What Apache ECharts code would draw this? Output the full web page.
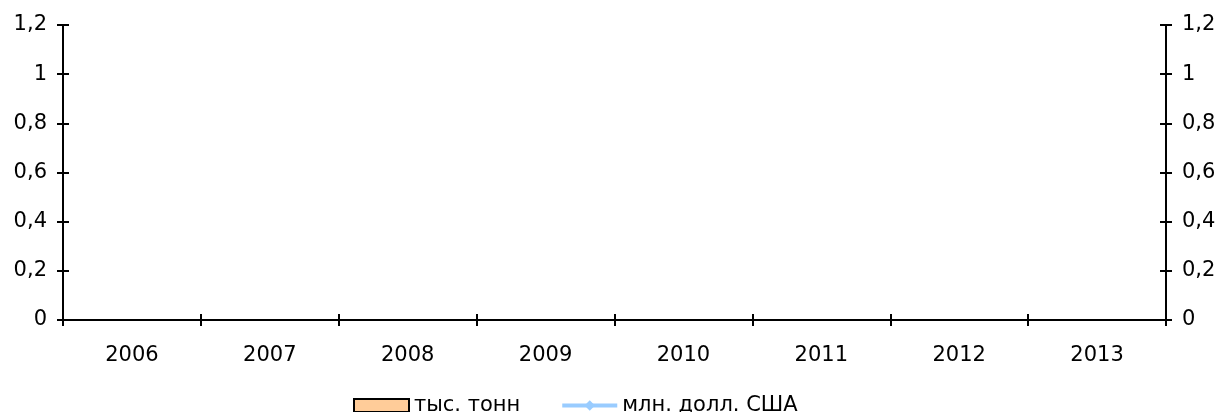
<!DOCTYPE html>
<html>
<head>
<meta charset="utf-8">
<script src="https://cdn.jsdelivr.net/npm/echarts@6/dist/echarts.min.js"></script>
<style>
  html, body { margin: 0; padding: 0; background: #fff; }
  #chart { width: 1219px; height: 412px; }
</style>
</head>
<body>
<div id="chart"></div>
<script>
const years = ["2006", "2007", "2008", "2009", "2010", "2011", "2012", "2013"];
// no values are plotted in the source chart
const tonnes = [null, null, null, null, null, null, null, null];
const usd = [null, null, null, null, null, null, null, null];
const yMin = 0;
const yMax = 1.2;
const yStep = 0.2;

const FONT = "DejaVu Sans";
const AXIS_COLOR = "#000";
const BAR_COLOR = "#FFCC99";
const LINE_COLOR = "#99CCFF";

const fmt = (v) => String(Math.round(v * 10) / 10).replace(".", ",");

const chart = echarts.init(document.getElementById("chart"));

function valueAxis(position) {
  return {
    type: "value",
    gridIndex: 0,
    position: position,
    min: yMin,
    max: yMax,
    interval: yStep,
    axisLine: { show: true, lineStyle: { color: AXIS_COLOR, width: 2 } },
    axisTick: { show: true, length: 6, lineStyle: { color: AXIS_COLOR, width: 2 } },
    axisLabel: { color: "#000", fontFamily: FONT, fontSize: 21, margin: 16, formatter: fmt },
    splitLine: { show: false },
  };
}

// grid 1 copies grid 0; its axes only add the inner half of each tick
function innerValueAxis(position) {
  const axis = {
    type: "value",
    gridIndex: 1,
    min: yMin,
    max: yMax,
    interval: yStep,
    axisLine: { show: true, lineStyle: { color: AXIS_COLOR } },
    axisTick: { show: true, inside: true, length: 6, lineStyle: { color: AXIS_COLOR, width: 2 } },
    axisLabel: { color: "rgba(0,0,0,0)" },
    splitLine: { show: false },
  };
  if (position === "right") axis.position = "right";
  return axis;
}

const gridBox = { left: 63, right: 53, top: 25, bottom: 92 };

chart.setOption({
  animation: false,
  backgroundColor: "#fff",
  textStyle: { fontFamily: FONT },
  grid: [Object.assign({}, gridBox), Object.assign({}, gridBox)],
  legend: {
    top: 390,
    left: 348,
    itemWidth: 55,
    itemHeight: 13,
    itemGap: 40,
    textStyle: { color: "#000", fontFamily: FONT, fontSize: 21 },
    data: [
      { name: "тыс. тонн", icon: "rect" },
      { name: "млн. долл. США", lineStyle: { width: 4, color: LINE_COLOR } },
    ],
  },
  xAxis: [
    {
      type: "category",
      gridIndex: 0,
      data: years,
      boundaryGap: true,
      axisLine: { show: true, onZero: false, lineStyle: { color: AXIS_COLOR, width: 2 } },
      axisTick: { show: true, length: 6, interval: 0, lineStyle: { color: AXIS_COLOR, width: 2 } },
      axisLabel: { color: "#000", fontFamily: FONT, fontSize: 21, margin: 25, interval: 0 },
    },
    {
      type: "category",
      gridIndex: 1,
      data: years,
      axisLine: { show: true, lineStyle: { color: AXIS_COLOR } },
      axisTick: { show: true, inside: true, length: 6, interval: 0, lineStyle: { color: AXIS_COLOR, width: 2 } },
      axisLabel: { color: "rgba(0,0,0,0)" },
    },
  ],
  yAxis: [
    valueAxis("left"),
    valueAxis("right"),
    innerValueAxis("left"),
    innerValueAxis("right"),
  ],
  series: [
    {
      name: "тыс. тонн",
      type: "bar",
      data: tonnes,
      xAxisIndex: 0,
      yAxisIndex: 0,
      itemStyle: { color: BAR_COLOR, borderColor: "#000", borderWidth: 2 },
    },
    {
      name: "млн. долл. США",
      type: "line",
      data: usd,
      xAxisIndex: 0,
      yAxisIndex: 1,
      symbol: "diamond",
      symbolSize: 14,
      lineStyle: { color: LINE_COLOR, width: 4 },
      itemStyle: { color: LINE_COLOR },
    },
    { type: "line", data: tonnes, xAxisIndex: 1, yAxisIndex: 2 },
    { type: "line", data: usd, xAxisIndex: 1, yAxisIndex: 3 },
  ],
});
</script>
</body>
</html>
